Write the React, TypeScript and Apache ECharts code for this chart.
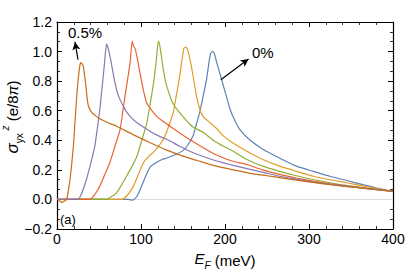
import React, { useEffect, useRef } from "react";
import * as echarts from "echarts";

const seriesNames = ["0%", "0.1%", "0.2%", "0.3%", "0.4%", "0.5%"];
const colors = ["#5E81B5", "#E19C24", "#8FB032", "#EB6235", "#8778B3", "#C56E1A"];

const blue0: number[][] = [[0,0],[40,0.002],[85,0],[90,-0.005],[95,0.02],[100,0.08],[105,0.15],[111,0.22],[118,0.25],[125,0.27],[131,0.28],[140,0.3],[150,0.33],[156,0.37],[162,0.43],[166,0.51],[170,0.59],[174,0.7],[178,0.81],[181,0.93],[183,0.99],[185,1.0],[187,0.99],[190,0.93],[193,0.87],[196,0.81],[201,0.71],[206,0.61],[212,0.53],[218,0.47],[230,0.4],[245,0.34],[265,0.28],[285,0.225],[305,0.19],[325,0.157],[345,0.128],[364,0.1],[382,0.075],[400,0.055]];
const orange1: number[][] = [[0,0],[40,0.002],[72,0],[77,0.0],[84,0.03],[91,0.09],[97,0.17],[103,0.25],[109,0.29],[115,0.32],[121,0.36],[126.5,0.405],[132,0.48],[138.5,0.59],[142,0.7],[146,0.83],[149,0.95],[151,1.02],[153,1.03],[155,1.02],[157,0.98],[160,0.9],[163,0.8],[166,0.7],[170,0.61],[174,0.56],[182,0.52],[190,0.48],[198,0.43],[210,0.38],[226,0.326],[245,0.27],[265,0.225],[285,0.19],[305,0.157],[325,0.133],[345,0.113],[370,0.085],[400,0.055]];
const green2: number[][] = [[0,0],[30,0.002],[55,0],[59,0.0],[65,0.02],[71,0.045],[77,0.1],[83,0.16],[89,0.22],[95,0.29],[101,0.4],[107,0.52],[111,0.65],[115,0.79],[118,0.93],[120.6,1.07],[122,1.05],[124,0.98],[126.5,0.88],[130,0.78],[134.5,0.7],[138,0.65],[142.5,0.61],[150,0.56],[158,0.51],[162,0.49],[175,0.45],[186,0.4],[198,0.36],[210,0.326],[226,0.27],[245,0.225],[265,0.19],[285,0.16],[305,0.135],[325,0.113],[345,0.095],[370,0.075],[400,0.055]];
const red3: number[][] = [[0,0],[20,0.002],[35,0],[39,0.0],[43,0.02],[47,0.05],[51,0.09],[57,0.17],[63,0.25],[69,0.36],[75,0.47],[78,0.58],[81,0.7],[84,0.81],[87,0.925],[89.6,1.07],[91,1.04],[93,1.02],[95,0.97],[98,0.88],[101,0.79],[104,0.71],[107,0.65],[113,0.6],[119,0.56],[127,0.525],[134.5,0.495],[146,0.45],[158,0.405],[174,0.35],[190,0.3],[208,0.26],[226,0.236],[245,0.2],[265,0.169],[285,0.145],[305,0.124],[325,0.106],[345,0.09],[370,0.073],[400,0.055]];
const purple4: number[][] = [[0,0],[20,0],[25,0.0],[30,0.05],[35,0.135],[40,0.24],[45,0.36],[48,0.48],[51,0.61],[53,0.72],[55,0.83],[57,0.95],[59,1.05],[61,1.02],[63,0.97],[66,0.88],[69,0.79],[72,0.72],[75,0.675],[79,0.63],[83,0.59],[89,0.55],[95,0.52],[103,0.49],[111,0.46],[121,0.43],[131,0.405],[146,0.36],[158,0.326],[174,0.29],[190,0.26],[210,0.23],[230,0.203],[248,0.18],[265,0.157],[285,0.137],[305,0.117],[325,0.103],[345,0.09],[370,0.073],[400,0.055]];
const dorange5: number[][] = [[0,0],[3,-0.01],[6,-0.02],[9,-0.01],[11.5,0.0],[13.5,0.06],[15.5,0.135],[17.5,0.24],[19.5,0.36],[21.5,0.53],[23.5,0.7],[25,0.8],[26.6,0.88],[28,0.925],[29.5,0.92],[31.3,0.9],[33,0.83],[34.5,0.765],[36,0.68],[37.5,0.63],[41,0.59],[46,0.565],[51,0.545],[60,0.52],[71,0.495],[90,0.44],[111,0.383],[130,0.335],[150,0.293],[170,0.258],[190,0.225],[210,0.2],[230,0.176],[250,0.16],[265,0.148],[285,0.13],[305,0.115],[325,0.1],[345,0.087],[365,0.075],[385,0.063],[400,0.055]];
const seriesData = [blue0, orange1, green2, red3, purple4, dorange5];

const xTicks = { min: 0, max: 400, interval: 100 };
const yTicks = { min: -0.2, max: 1.2, interval: 0.2 };

const FONT = "Liberation Sans, Arial, sans-serif";

export default function App() {
  const ref = useRef<HTMLDivElement>(null);
  useEffect(() => {
    const chart = echarts.init(ref.current!, null, { renderer: "svg" });
    const axisCommon = {
      axisLine: { show: true, onZero: false, lineStyle: { color: "#000", width: 1.2 } },
      axisTick: { show: true, inside: true, length: 5, lineStyle: { color: "#000", width: 1 } },
      minorTick: { show: true, length: 3, lineStyle: { color: "#000", width: 0.8 } },
      splitLine: { show: false },
    };
    const fmtY = (v: number) => {
      const s = Math.abs(v).toFixed(1);
      return v < -1e-9 ? "\u2212" + s : s;
    };
    const series: any[] = seriesData.map((d, i) => ({
      type: "line",
      name: seriesNames[i],
      data: d,
      showSymbol: false,
      symbol: "none",
      smooth: 0.2,
      lineStyle: { color: colors[i], width: 1.2 },
      z: 3 + i,
    }));
    series[0].markLine = {
      silent: true,
      symbol: "none",
      label: { show: false },
      lineStyle: { color: "#dddddd", width: 1, type: "solid" },
      data: [{ yAxis: 0 }],
      z: 1,
    };
    series[5].markLine = {
      silent: true,
      symbol: ["none", "arrow"],
      symbolSize: [6, 8],
      label: { show: false },
      lineStyle: { color: "#000", width: 1.2, type: "solid" },
      data: [
        [{ coord: [25, 0.946] }, { coord: [21.4, 1.065] }],
        [{ coord: [195, 0.81] }, { coord: [228, 0.95] }],
      ],
    };
    chart.setOption({
      animation: false,
      backgroundColor: "#fff",
      grid: { left: 57, right: 22, top: 22, bottom: 42, containLabel: false, outerBoundsMode: "none" },
      xAxis: [
        {
          type: "value",
          position: "bottom",
          ...xTicks,
          ...axisCommon,
          minorTick: { ...axisCommon.minorTick, splitNumber: 5 },
          axisLabel: { color: "#000", fontSize: 14, fontFamily: FONT, margin: 3 },
          name: "{i|E}{sub|F} (meV)",
          nameLocation: "middle",
          nameGap: 19,
          nameTextStyle: {
            color: "#000",
            fontSize: 15,
            fontFamily: FONT,
            rich: {
              i: { fontStyle: "italic", fontSize: 15, fontFamily: FONT, color: "#000", verticalAlign: "top", lineHeight: 20 },
              sub: { fontStyle: "italic", fontSize: 10, fontFamily: FONT, color: "#000", verticalAlign: "bottom", lineHeight: 12 },
            },
          },
        },
        {
          type: "value",
          position: "top",
          ...xTicks,
          ...axisCommon,
          minorTick: { ...axisCommon.minorTick, splitNumber: 5 },
          axisLabel: { show: false },
        },
      ],
      yAxis: [
        {
          type: "value",
          position: "left",
          ...yTicks,
          ...axisCommon,
          minorTick: { ...axisCommon.minorTick, splitNumber: 3 },
          axisLabel: { color: "#000", fontSize: 14, fontFamily: FONT, margin: 5, formatter: fmtY },
        },
        {
          type: "value",
          position: "right",
          ...yTicks,
          ...axisCommon,
          minorTick: { ...axisCommon.minorTick, splitNumber: 3 },
          axisLabel: { show: false },
        },
      ],
      graphic: [
        {
          type: "text",
          x: 12,
          y: 117,
          rotation: Math.PI / 2,
          style: {
            text: "{s|σ}{sub|yx}{sup| z} (e/8{p|π})",
            align: "center",
            verticalAlign: "middle",
            fontSize: 15,
            fontFamily: FONT,
            fill: "#000",
            rich: {
              s: { fontStyle: "italic", fontSize: 17, fontFamily: FONT, fill: "#000" },
              sub: { fontSize: 10, fontFamily: FONT, fill: "#000", verticalAlign: "bottom", lineHeight: 10 },
              sup: { fontStyle: "italic", fontSize: 10, fontFamily: FONT, fill: "#000", verticalAlign: "top", lineHeight: 24 },
              p: { fontStyle: "italic", fontSize: 15, fontFamily: FONT, fill: "#000" },
            },
          },
        },
        { type: "text", left: 68, top: 25, style: { text: "0.5%", fontSize: 15, fontFamily: FONT, fill: "#000" } },
        { type: "text", left: 252, top: 45, style: { text: "0%", fontSize: 15, fontFamily: FONT, fill: "#000" } },
        { type: "text", left: 60, top: 213, style: { text: "(a)", fontSize: 13, fontFamily: FONT, fill: "#000" } },
      ],
      series,
    });
    return () => chart.dispose();
  }, []);
  return <div ref={ref} style={{ position: "fixed", left: 0, top: 0, width: 415, height: 271 }} />;
}
